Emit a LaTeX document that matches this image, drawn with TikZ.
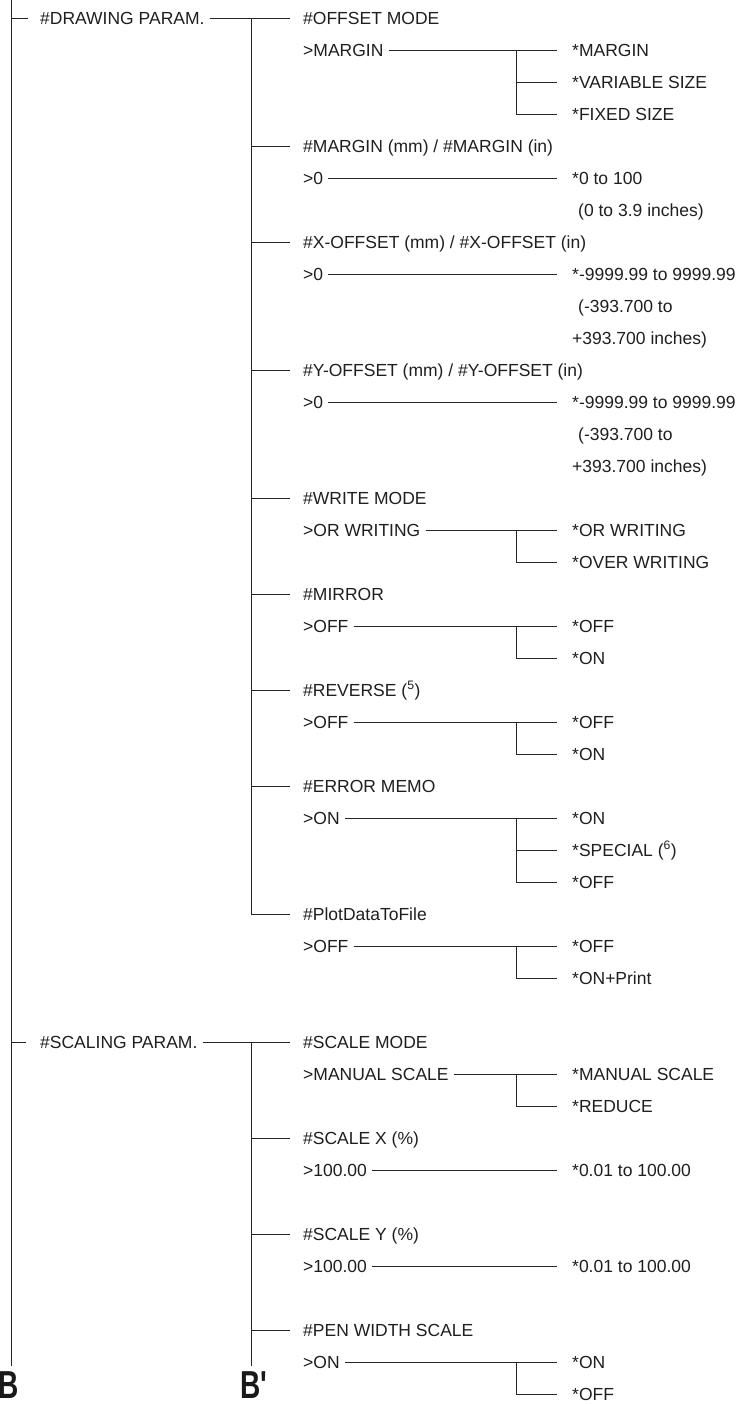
\documentclass[tikz,border=0pt]{standalone}
\usepackage{fontspec}
\setmainfont{Liberation Sans}
\usetikzlibrary{calc}
\tikzset{
  lbl/.style={anchor=west, inner sep=0pt, text height=12.5pt, text depth=0pt,
    font=\fontsize{17.5}{19}\selectfont, text=black!88},
  conn/.style={draw=black!85, line width=0.9pt},
  bigletter/.style={anchor=base west, inner sep=0pt,
    font=\fontsize{39}{39}\selectfont\bfseries, text=black!90}
}
\begin{document}
\begin{tikzpicture}[x=1pt,y=-1pt]
\useasboundingbox (0,0) rectangle (743,1404);
\clip (0,0) rectangle (743,1404);
\fill[white] (0,0) rectangle (743,1404);

% ---------- level 1 ----------
\node[lbl] (dp) at (40,18) {\#DRAWING PARAM.};
\node[lbl] (sp) at (40,1042) {\#SCALING PARAM.};
\coordinate (spineTop) at (11,0);
\coordinate (spineBot) at (11,1366);
\draw[conn] (spineTop) -- (spineBot);
\draw[conn] ([xshift=-29pt]dp.west) -- ([xshift=-12pt]dp.west);
\draw[conn] ([xshift=-29pt]sp.west) -- ([xshift=-14pt]sp.west);

% ---------- level 2 headers ----------
\node[lbl] (hOff)  at (303,18)   {\#OFFSET MODE};
\node[lbl] (hMar)  at (303,146)  {\#MARGIN (mm) / \#MARGIN (in)};
\node[lbl] (hX)    at (303,242)  {\#X-OFFSET (mm) / \#X-OFFSET (in)};
\node[lbl] (hY)    at (303,370)  {\#Y-OFFSET (mm) / \#Y-OFFSET (in)};
\node[lbl] (hW)    at (303,498)  {\#WRITE MODE};
\node[lbl] (hMi)   at (303,594)  {\#MIRROR};
\node[lbl] (hR)    at (303,690)  {\#REVERSE (\textsuperscript{5})};
\node[lbl] (hE)    at (303,786)  {\#ERROR MEMO};
\node[lbl] (hP)    at (303,914)  {\#PlotDataToFile};
\node[lbl] (hSM)   at (303,1042) {\#SCALE MODE};
\node[lbl] (hSX)   at (303,1138) {\#SCALE X (\%)};
\node[lbl] (hSY)   at (303,1234) {\#SCALE Y (\%)};
\node[lbl] (hPW)   at (303,1330) {\#PEN WIDTH SCALE};

% level-1 to level-2 connectors
\draw[conn] ([xshift=5pt]dp.east) -- ([xshift=-13pt]hOff.west);
\draw[conn] ([xshift=5pt]sp.east) -- ([xshift=-13pt]hSM.west);
\draw[conn] ([xshift=-52pt]hOff.west) -- ([xshift=-52pt]hP.west);
\coordinate (spine2Bot) at (251,1366);
\draw[conn] ([xshift=-52pt]hSM.west) -- (spine2Bot);
\foreach \h in {hMar,hX,hY,hW,hMi,hR,hE,hP,hSX,hSY,hPW}{
  \draw[conn] ([xshift=-52pt]\h.west) -- ([xshift=-13pt]\h.west);
}

% ---------- level 2 values ----------
\node[lbl] (vMar) at (303,50)   {>MARGIN};
\node[lbl] (vMa0) at (303,178)  {>0};
\node[lbl] (vX0)  at (303,274)  {>0};
\node[lbl] (vY0)  at (303,402)  {>0};
\node[lbl] (vW)   at (303,530)  {>OR WRITING};
\node[lbl] (vMi)  at (303,626)  {>OFF};
\node[lbl] (vR)   at (303,722)  {>OFF};
\node[lbl] (vE)   at (303,818)  {>ON};
\node[lbl] (vP)   at (303,946)  {>OFF};
\node[lbl] (vSM)  at (303,1074) {>MANUAL SCALE};
\node[lbl] (vSX)  at (303,1170) {>100.00};
\node[lbl] (vSY)  at (303,1266) {>100.00};
\node[lbl] (vPW)  at (303,1362) {>ON};

% ---------- level 3 options ----------
\node[lbl] (oMar1) at (572,50)  {*MARGIN};
\node[lbl] (oMar2) at (572,82)  {*VARIABLE SIZE};
\node[lbl] (oMar3) at (572,114) {*FIXED SIZE};
\node[lbl] (oMa)   at (572,178) {*0 to 100};
\node[lbl] (oMaB)  at (578,210) {(0 to 3.9 inches)};
\node[lbl] (oX)    at (572,274) {*-9999.99 to 9999.99};
\node[lbl] (oXb)   at (578,306) {(-393.700 to};
\node[lbl] (oXc)   at (572,338) {+393.700 inches)};
\node[lbl] (oY)    at (572,402) {*-9999.99 to 9999.99};
\node[lbl] (oYb)   at (578,434) {(-393.700 to};
\node[lbl] (oYc)   at (572,466) {+393.700 inches)};
\node[lbl] (oW1)   at (572,530) {*OR WRITING};
\node[lbl] (oW2)   at (572,562) {*OVER WRITING};
\node[lbl] (oMi1)  at (572,626) {*OFF};
\node[lbl] (oMi2)  at (572,658) {*ON};
\node[lbl] (oR1)   at (572,722) {*OFF};
\node[lbl] (oR2)   at (572,754) {*ON};
\node[lbl] (oE1)   at (572,818) {*ON};
\node[lbl] (oE2)   at (572,850) {*SPECIAL (\textsuperscript{6})};
\node[lbl] (oE3)   at (572,882) {*OFF};
\node[lbl] (oP1)   at (572,946) {*OFF};
\node[lbl] (oP2)   at (572,978) {*ON+Print};
\node[lbl] (oSM1)  at (572,1074) {*MANUAL SCALE};
\node[lbl] (oSM2)  at (572,1106) {*REDUCE};
\node[lbl] (oSX)   at (572,1170) {*0.01 to 100.00};
\node[lbl] (oSY)   at (572,1266) {*0.01 to 100.00};
\node[lbl] (oPW1)  at (572,1362) {*ON};
\node[lbl] (oPW2)  at (572,1394) {*OFF};

% value -> first option connectors
\foreach \v/\o in {vMar/oMar1,vMa0/oMa,vX0/oX,vY0/oY,vW/oW1,vMi/oMi1,vR/oR1,vE/oE1,vP/oP1,vSM/oSM1,vSX/oSX,vSY/oSY,vPW/oPW1}{
  \draw[conn] ([xshift=5pt]\v.east) -- ([xshift=-15pt]\o.west);
}
% branches to further options
\foreach \a/\b in {oMar1/oMar2,oMar1/oMar3,oW1/oW2,oMi1/oMi2,oR1/oR2,oE1/oE2,oE1/oE3,oP1/oP2,oSM1/oSM2,oPW1/oPW2}{
  \draw[conn] ([xshift=-56pt]\a.west) |- ([xshift=-15pt]\b.west);
}

% ---------- bottom letters ----------
\node[bigletter] (lblB)  at (-2,1398)  {\scalebox{0.72}[1]{B}};
\node[bigletter] (lblBp) at (240,1398) {\scalebox{0.72}[1]{B\textquotesingle}};
\end{tikzpicture}
\end{document}
